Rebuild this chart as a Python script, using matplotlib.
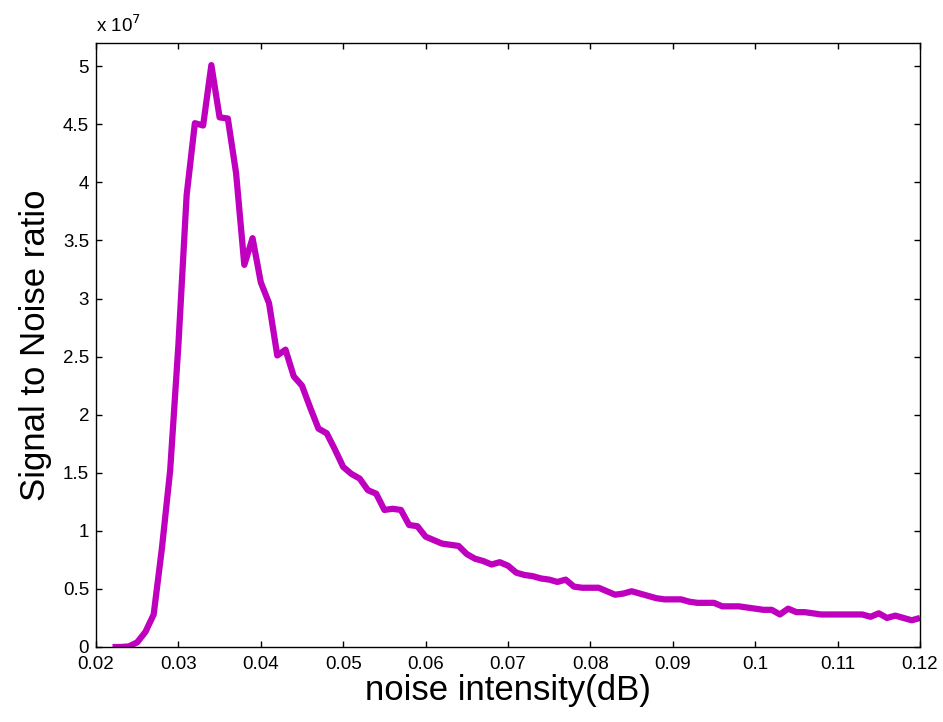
import numpy as np
import matplotlib
matplotlib.use("Agg")
import matplotlib.pyplot as plt
from matplotlib.ticker import FuncFormatter, MultipleLocator

# noise intensity (dB) and SNR (in units of 1e7)
noise = [0.022, 0.023, 0.024, 0.025, 0.026, 0.027, 0.028, 0.029, 0.030, 0.031,
         0.032, 0.033, 0.034, 0.035, 0.036, 0.037, 0.038, 0.039, 0.040, 0.041,
         0.042, 0.043, 0.044, 0.045, 0.046, 0.047, 0.048, 0.049, 0.050, 0.051,
         0.052, 0.053, 0.054, 0.055, 0.056, 0.057, 0.058, 0.059, 0.060, 0.061,
         0.062, 0.063, 0.064, 0.065, 0.066, 0.067, 0.068, 0.069, 0.070, 0.071,
         0.072, 0.073, 0.074, 0.075, 0.076, 0.077, 0.078, 0.079, 0.080, 0.081,
         0.082, 0.083, 0.084, 0.085, 0.086, 0.087, 0.088, 0.089, 0.090, 0.091,
         0.092, 0.093, 0.094, 0.095, 0.096, 0.097, 0.098, 0.099, 0.100, 0.101,
         0.102, 0.103, 0.104, 0.105, 0.106, 0.107, 0.108, 0.109, 0.110, 0.111,
         0.112, 0.113, 0.114, 0.115, 0.116, 0.117, 0.118, 0.119, 0.120]
snr_e7 = [0.0, 0.0, 0.005, 0.04, 0.13, 0.28, 0.85, 1.52, 2.6, 3.89,
          4.51, 4.49, 5.01, 4.56, 4.55, 4.08, 3.29, 3.52, 3.14, 2.96,
          2.51, 2.56, 2.33, 2.25, 2.06, 1.88, 1.84, 1.70, 1.55, 1.49,
          1.45, 1.35, 1.32, 1.18, 1.19, 1.18, 1.05, 1.04, 0.95, 0.92,
          0.89, 0.88, 0.87, 0.80, 0.76, 0.74, 0.71, 0.73, 0.70, 0.64,
          0.62, 0.61, 0.59, 0.58, 0.56, 0.58, 0.52, 0.51, 0.51, 0.51,
          0.48, 0.45, 0.46, 0.48, 0.46, 0.44, 0.42, 0.41, 0.41, 0.41,
          0.39, 0.38, 0.38, 0.38, 0.35, 0.35, 0.35, 0.34, 0.33, 0.32,
          0.32, 0.28, 0.33, 0.30, 0.30, 0.29, 0.28, 0.28, 0.28, 0.28,
          0.28, 0.28, 0.26, 0.29, 0.25, 0.27, 0.25, 0.23, 0.25]
snr = np.array(snr_e7) * 1e7

plt.rcParams["font.family"] = ["Liberation Sans", "DejaVu Sans"]

fig = plt.figure(figsize=(9.43, 7.22), dpi=100)
ax = fig.add_axes([0.1018, 0.1039, 0.8738, 0.8365])

ax.plot(noise, snr, color="#bf00bf", linewidth=4.5,
        solid_joinstyle="round", solid_capstyle="butt")

ax.set_xlim(0.02, 0.12)
ax.set_ylim(0, 5.2e7)
ax.xaxis.set_major_locator(MultipleLocator(0.01))
ax.yaxis.set_major_locator(MultipleLocator(0.5e7))
ax.xaxis.set_major_formatter(FuncFormatter(lambda v, p: f"{v:g}"))
ax.yaxis.set_major_formatter(FuncFormatter(lambda v, p: f"{v / 1e7:g}"))
ax.tick_params(direction="in", length=4, width=1, labelsize=13.5,
               top=True, right=True)
ax.tick_params(axis="x", pad=6.5)
ax.tick_params(axis="y", pad=5)
for s in ax.spines.values():
    s.set_linewidth(1)

ax.set_xlabel("noise intensity(dB)", fontsize=25, labelpad=1)
ax.set_ylabel("Signal to Noise ratio", fontsize=25, labelpad=8)
ax.text(0.0, 1.012, r"x 10$^{7}$", transform=ax.transAxes, fontsize=13.5,
        ha="left", va="bottom")

fig.savefig("out.png", dpi=100)
